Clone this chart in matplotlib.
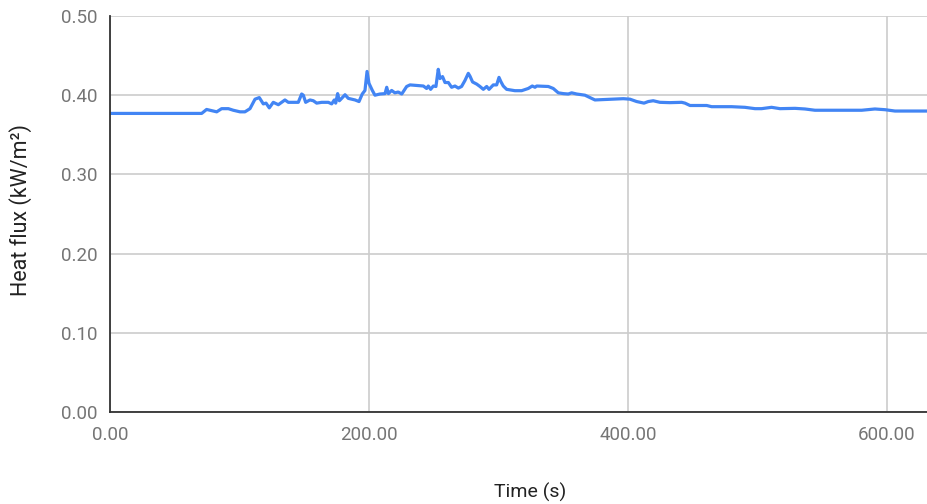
import matplotlib
matplotlib.use("Agg")
import matplotlib.pyplot as plt

plt.rcParams['font.family'] = ['Roboto', 'DejaVu Sans']

# time (s) and heat flux (kW/m²)
time_s = [0, 61.8, 70.8, 74.6, 79.8, 82.4, 86.2, 91.4, 95.2, 100.4, 104.2, 108.1,
          112.0, 115.3, 118.4, 120.5, 123.0, 126.1, 130.0, 135.1, 137.7, 145.4,
          148.0, 149.3, 151.1, 154.4, 157.0, 159.6, 163.5, 168.6, 171.2, 173.2,
          174.3, 175.8, 177.1, 178.9, 181.5, 184.0, 189.2, 192.3, 194.8, 196.9,
          198.5, 200.0, 202.6, 204.6, 208.5, 212.4, 213.7, 215.0, 217.5, 220.0,
          222.6, 225.3, 229.1, 231.7, 242.0, 244.5, 245.8, 247.6, 249.7, 251.7,
          253.5, 254.8, 256.8, 258.7, 261.3, 263.8, 266.4, 269.0, 271.5, 274.1,
          276.7, 278.0, 280.0, 283.2, 285.7, 288.3, 290.9, 292.7, 296.0, 298.6,
          300.4, 301.9, 303.7, 306.3, 312.7, 317.9, 323.0, 326.1, 328.2, 329.5,
          338.5, 342.3, 346.2, 350.1, 353.9, 356.5, 360.4, 366.8, 370.7, 374.5,
          388.7, 396.4, 401.5, 406.7, 412.4, 415.7, 419.5, 424.7, 432.4, 441.5,
          444.0, 447.9, 451.7, 460.8, 464.6, 480.0, 490.3, 498.1, 503.2, 510.9,
          517.4, 529.0, 536.7, 544.4, 554.7, 567.6, 580.5, 590.7, 598.5, 606.2,
          631.7]
heat_flux = [0.377, 0.377, 0.377, 0.382, 0.380, 0.379, 0.383, 0.383, 0.381, 0.379,
             0.379, 0.383, 0.395, 0.397, 0.389, 0.390, 0.384, 0.391, 0.388, 0.394,
             0.391, 0.391, 0.4015, 0.400, 0.391, 0.394, 0.393, 0.390, 0.391, 0.391,
             0.389, 0.394, 0.390, 0.402, 0.393, 0.396, 0.4006, 0.396, 0.394, 0.392,
             0.4015, 0.406, 0.430, 0.415, 0.406, 0.400, 0.4015, 0.402, 0.410, 0.402,
             0.406, 0.403, 0.404, 0.4015, 0.411, 0.413, 0.4116, 0.4085, 0.4116,
             0.4074, 0.4116, 0.411, 0.4327, 0.421, 0.4235, 0.416, 0.416, 0.410,
             0.4116, 0.409, 0.411, 0.4185, 0.4276, 0.424, 0.4167, 0.414, 0.411,
             0.4074, 0.411, 0.4074, 0.413, 0.413, 0.4225, 0.417, 0.4116, 0.4074,
             0.4057, 0.4057, 0.4085, 0.4116, 0.410, 0.4116, 0.411, 0.4085, 0.403,
             0.402, 0.4015, 0.403, 0.4015, 0.400, 0.397, 0.394, 0.395, 0.3956,
             0.395, 0.392, 0.390, 0.392, 0.393, 0.391, 0.3906, 0.391, 0.390, 0.387,
             0.387, 0.387, 0.3855, 0.3855, 0.3847, 0.383, 0.383, 0.3847, 0.383,
             0.3834, 0.3826, 0.381, 0.381, 0.381, 0.381, 0.3826, 0.3817, 0.380,
             0.380]

x_ticks = [0, 200, 400, 600]
y_ticks = [0.0, 0.1, 0.2, 0.3, 0.4, 0.5]

fig = plt.figure(figsize=(9.28, 5.04), dpi=100)
ax = fig.add_axes([110 / 928, 92 / 504, 818 / 928, 396 / 504])

ax.plot(time_s, heat_flux, color='#4285F4', linewidth=2.3, solid_joinstyle='round', zorder=3)

ax.set_xlim(0, 631.7)
ax.set_ylim(0, 0.5)
ax.set_xticks(x_ticks)
ax.set_yticks(y_ticks)
ax.set_xticklabels([f"{v:.2f}" for v in x_ticks])
ax.set_yticklabels([f"{v:.2f}" for v in y_ticks])
ax.tick_params(length=0, labelsize=13.5, labelcolor='#757575')
ax.tick_params(axis='x', pad=10)
ax.tick_params(axis='y', pad=9)

ax.grid(True, color='#cccccc', linewidth=1.2)
ax.set_axisbelow(True)
for side in ['top', 'right']:
    ax.spines[side].set_visible(False)
for side in ['left', 'bottom']:
    ax.spines[side].set_color('#333333')
    ax.spines[side].set_linewidth(1.3)
    ax.spines[side].set_zorder(4)

# axis titles placed like the reference (chart area runs past the right edge)
fig.text(530 / 928, 1 - 492 / 504, 'Time (s)', fontsize=14, color='#222222',
         ha='center', va='center')
fig.text(21 / 928, 1 - 210 / 504, 'Heat flux (kW/m²)', fontsize=15.5, color='#222222',
         ha='center', va='center', rotation=90)

fig.savefig('out.png', dpi=100)
